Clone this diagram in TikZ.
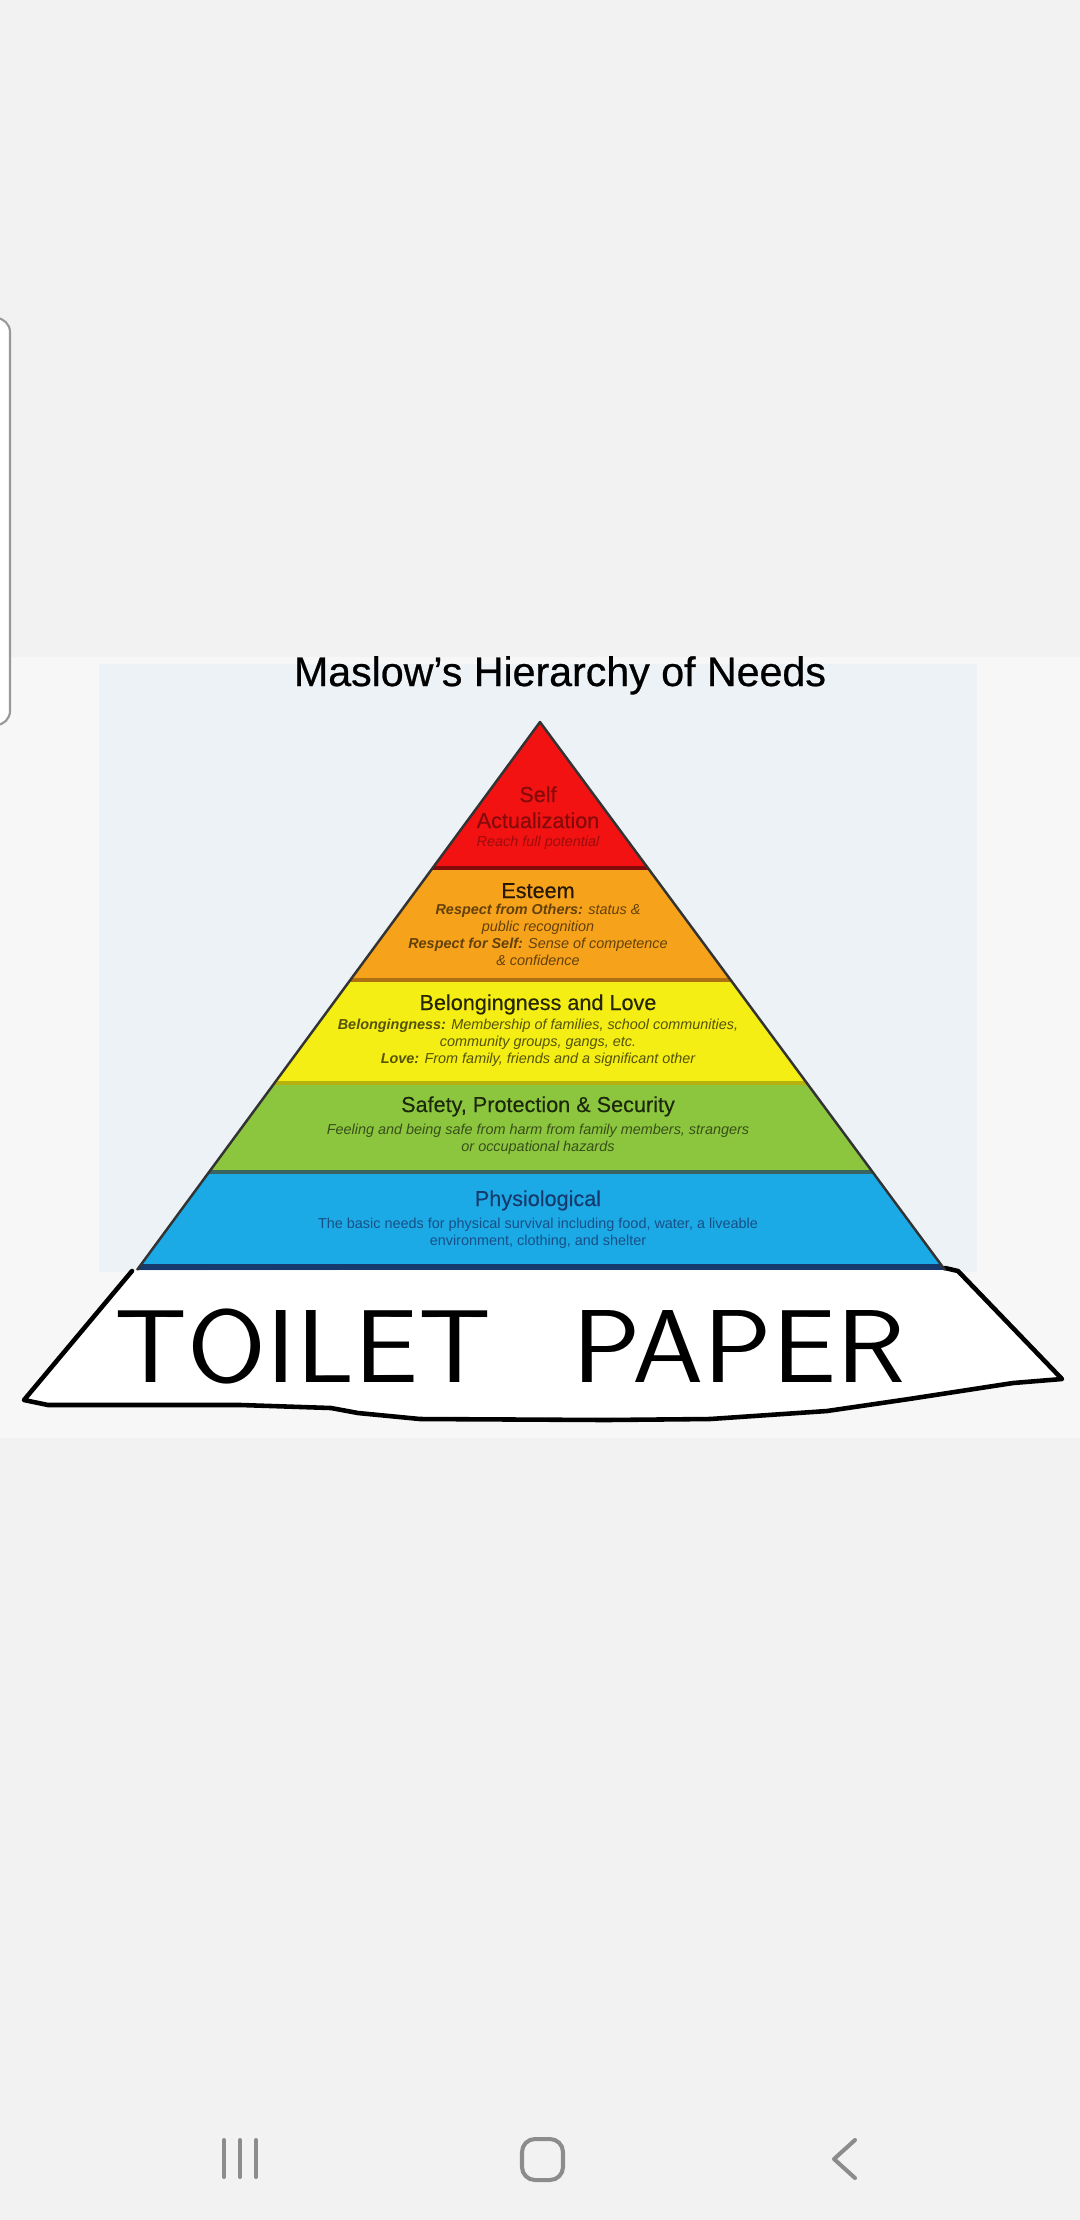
\documentclass[tikz,border=0pt]{standalone}
\usepackage{fontspec}
\setmainfont{Liberation Sans}

\definecolor{phonegray}{RGB}{242,242,242}
\definecolor{memewhite}{RGB}{247,247,247}
\definecolor{paleblue}{RGB}{236,242,246}
\definecolor{selfred}{RGB}{242,18,18}
\definecolor{esteemorange}{RGB}{247,162,27}
\definecolor{loveyellow}{RGB}{244,238,20}
\definecolor{safegreen}{RGB}{140,198,63}
\definecolor{physblue}{RGB}{28,170,230}
\definecolor{physnavy}{RGB}{22,58,110}
\definecolor{navgray}{RGB}{140,140,140}

\begin{document}
\begin{tikzpicture}[x = 0.01cm, y = -0.01cm, inner sep = 0pt]
  \tikzstyle{head} = [font = \fontsize{6.15}{7}\selectfont\addfontfeature{FakeBold=0.3}, anchor = base]
  \tikzstyle{note} = [font = \fontsize{4.1}{4.9}\selectfont\itshape, align = center, anchor = north]
  \tikzstyle{band} = [line width = 0.9pt]
  \tikzstyle{navicon} = [draw = navgray, line width = 1.15pt, line cap = round, line join = round]

  \useasboundingbox (0,0) rectangle (1080,2220);
  \fill[phonegray] (0,0) rectangle (1080,2220);
  \fill[memewhite] (0,657) rectangle (1080,1438);
  \fill[paleblue]  (99,664) rectangle (977,1272);
  \filldraw[fill = white, draw = black!40, line width = 0.6pt, rounded corners = 4pt] (-30,318) rectangle (10,725);

  \node[font = \fontsize{11.7}{14}\selectfont\addfontfeature{FakeBold=0.6}, anchor = base] (title) at (560,686) {Maslow’s Hierarchy of Needs};

  \coordinate (apex) at (540,722);
  \coordinate (bl)   at (137,1270);
  \coordinate (br)   at (945,1270);

  \fill[white] (132,1271) -- (24,1400) -- (48,1405) -- (241,1405) -- (331,1408) -- (358,1413)
    -- (420,1419) -- (606,1420) -- (710,1419) -- (827,1411) -- (909,1399) -- (1013,1383)
    -- (1062,1379) -- (958,1271) -- (945,1268) -- cycle;
  \draw[line width = 1.3pt, line join = round, line cap = round] (132,1271) -- (24,1400) -- (48,1405)
    -- (241,1405) -- (331,1408) -- (358,1413) -- (420,1419) -- (606,1420) -- (710,1419)
    -- (827,1411) -- (909,1399) -- (1013,1383) -- (1062,1379) -- (958,1271) -- (945,1268);

  \begin{scope}
    \clip (apex) -- (bl) -- (br) -- cycle;
    \fill[selfred]      (0,700)  rectangle (1080,868);
    \fill[esteemorange] (0,868)  rectangle (1080,980);
    \fill[loveyellow]   (0,980)  rectangle (1080,1083);
    \fill[safegreen]    (0,1083) rectangle (1080,1172);
    \fill[physblue]     (0,1172) rectangle (1080,1270);
    \draw[band, draw = black!45!selfred]      (0,868)  -- (1080,868);
    \draw[band, draw = black!30!esteemorange] (0,980)  -- (1080,980);
    \draw[band, draw = black!25!loveyellow]   (0,1083) -- (1080,1083);
    \draw[band, draw = physnavy!70!safegreen] (0,1172) -- (1080,1172);
    \draw[line width = 1.5pt, draw = physnavy] (0,1267) -- (1080,1267);
  \end{scope}
  \draw[line width = 0.7pt, draw = black!80, line join = round] (bl) -- (apex) -- (br);

  \node[head, text = black!45!selfred] (self)   at (538,802) {Self};
  \node[head, text = black!45!selfred] (actual) at (538,828) {Actualization};
  \node[note, text = black!35!selfred] (selfnote) at (538,835) {Reach full potential};

  \node[head, text = black!85!esteemorange] (esteem) at (538,898) {Esteem};
  \node[note, text = black!60!esteemorange] (esteemnote) at (538,903)
    {\textbf{Respect from Others:} status \&\\ public recognition\\
     \textbf{Respect for Self:} Sense of competence\\ \& confidence};

  \node[head, text = black!85!loveyellow] (love) at (538,1010) {Belongingness and Love};
  \node[note, text = black!65!loveyellow] (lovenote) at (538,1018)
    {\textbf{Belongingness:} Membership of families, school communities,\\
     community groups, gangs, etc.\\
     \textbf{Love:} From family, friends and a significant other};

  \node[head, text = black!80!safegreen] (safety) at (538,1112) {Safety, Protection \& Security};
  \node[note, text = black!60!safegreen] (safetynote) at (538,1123)
    {Feeling and being safe from harm from family members, strangers\\ or occupational hazards};

  \node[head, text = physnavy] (physio) at (538,1206) {Physiological};
  \node[note, font = \fontsize{4.1}{4.9}\selectfont, text = physnavy!80!physblue] (physnote) at (538,1217)
    {The basic needs for physical survival including food, water, a liveable\\
     environment, clothing, and shelter};

  \node[font = \fontsize{29.5}{30}\sffamily, anchor = base, xscale = 1.1] (paper) at (510,1382) {TOILET\hspace{0.4em} PAPER};

  \draw[navicon] (224,2140) -- (224,2177);
  \draw[navicon] (240,2140) -- (240,2177);
  \draw[navicon] (256,2140) -- (256,2177);
  \draw[navicon, rounded corners = 3.7pt] (522,2139) rectangle (563,2180);
  \draw[navicon] (855,2140) -- (834,2159) -- (855,2178);
\end{tikzpicture}
\end{document}
